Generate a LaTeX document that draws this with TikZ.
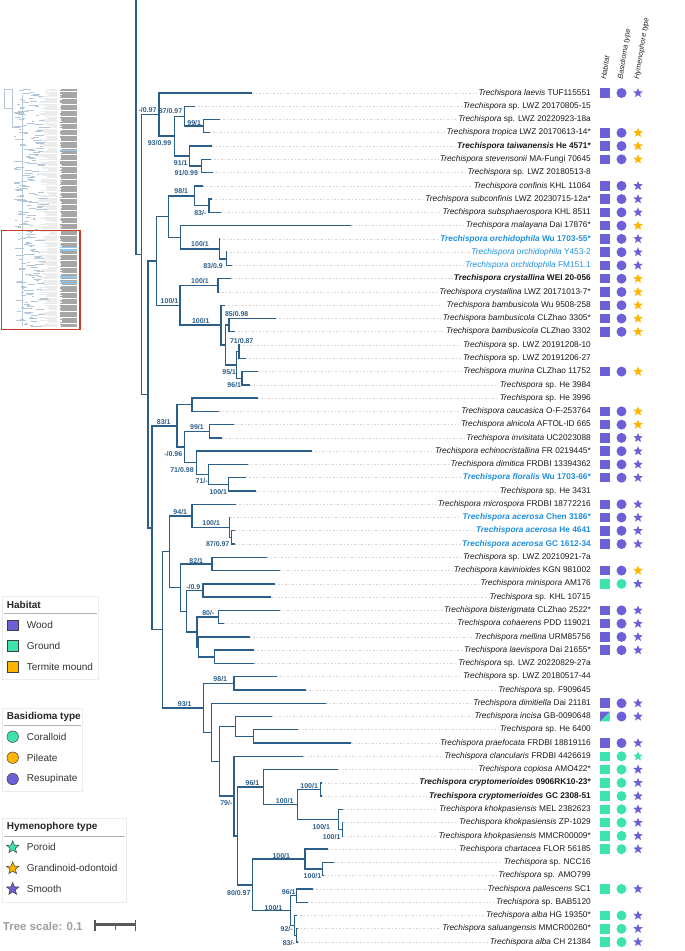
\documentclass[tikz,border=0pt]{standalone}
\usepackage{fontspec}
\setmainfont{Liberation Sans}
\usetikzlibrary{shapes.geometric}

\definecolor{rama}{RGB}{44,94,138}
\definecolor{madera}{RGB}{108,96,214}
\definecolor{suelo}{RGB}{62,226,174}
\definecolor{termita}{RGB}{255,180,0}
\definecolor{azul}{RGB}{30,142,222}
\definecolor{rojo}{RGB}{196,62,40}

\tikzset{
  branch/.style={rama, line width=1.4pt},
  minirama/.style={rama!35, line width=.4pt},
  leader/.style={gray!35, line width=.6pt, dash pattern=on 1.5pt off 2pt},
  taxon/.style={anchor=east, inner xsep=1.5pt, inner ysep=0pt, text=black!90,
    font=\fontsize{8.3}{10}\selectfont},
  tx/.is choice,
  tx/n/.style={},
  tx/b/.style={font=\fontsize{8.3}{10}\selectfont\bfseries},
  tx/c/.style={text=azul},
  tx/cb/.style={text=azul, font=\fontsize{8.3}{10}\selectfont\bfseries},
  support/.style={rama, inner sep=0pt, font=\fontsize{7}{8}\selectfont\bfseries},
  header/.style={inner sep=0pt, text=black!85, font=\fontsize{7.4}{9}\selectfont\itshape},
  sqicon/.style={rectangle, minimum size=9.5pt, inner sep=0pt},
  ciricon/.style={circle, minimum size=10pt, inner sep=0pt},
  staricon/.style={star, star points=5, star point ratio=2.3, minimum size=10pt, inner sep=0pt},
  legbox/.style={draw=gray!15, fill=white, line width=.6pt},
  legtitle/.style={anchor=west, inner sep=0pt, text=black!85, font=\fontsize{10}{12}\selectfont\bfseries},
  legtext/.style={anchor=west, inner sep=0pt, text=black!80, font=\fontsize{10}{12}\selectfont},
  legicon/.style={draw=black!75, line width=.5pt},
}

\begin{document}
\begin{tikzpicture}[x=1pt, y=-1pt]
\useasboundingbox (0,0) rectangle (685,951);

% Miniatura del arbol completo
\pgfmathsetseed{11}
\foreach \k in {0,...,199}{
  \pgfmathsetmacro{\yy}{89.5+1.19*\k}
  \pgfmathsetmacro{\xa}{59.5+2.5*rnd}
  \pgfmathsetmacro{\xb}{38+12*rnd}
  \pgfmathsetmacro{\xc}{14+26*rnd}
  \pgfmathsetmacro{\xd}{\xc+2+9*rnd}
  \draw[gray!70, line width=.7pt] (\xa,\yy) -- (76.5,\yy);
  \draw[gray!15, line width=.5pt] (\xb,\yy) -- (57,\yy);
  \draw[minirama] (\xc,\yy) -- (\xd,\yy);
}
\draw[minirama, line width=.6pt] (12,89) -- (4,89) -- (4,108) -- (12,108);
\draw[minirama, line width=.6pt] (12,89) -- (12,127) -- (20,127);
\draw[minirama, line width=.6pt] (22,95) -- (22,326);
\draw[azul!50, line width=.8pt] (60,150.5) -- (76.5,150.5);
\foreach \yy in {247.5,249,250.5,276,277.5,281.5,283}
  \draw[azul!50, line width=.8pt] (60,\yy) -- (76.5,\yy);
\draw[rojo, line width=1.3pt] (1.7,230.5) rectangle (80,329.5);

% Encabezados de las columnas
\node[header, anchor=base west, rotate=81] (hdh) at (606,80) {Habitat};
\node[header, anchor=base west, rotate=81] (hdb) at (622.5,80) {Basidioma type};
\node[header, anchor=base west, rotate=81] (hdm) at (639,80) {Hymenophore type};

% Arbol (una fila = un taxon)
\begin{scope}[yshift=-79.73pt, y=-13.266pt]
  \coordinate (root) at (136,-6.01);
  \foreach \n/\x/\r in {N1/141.6/13.171, A/158.8/2.625, B/174.4/4.25, C/184.7/2.75,
      D/203.4/3.5, E/189.7/5.75, F/201.3/6.5, N2/147.9/23.717, H/156.3/13.656,
      I/168.2/10.3125, K/194.5/8.75, M/208.9/9.5, L/180.3/11.875, N/219.2/12.75,
      O/226.2/13.5, J/180/17, P/217.9/15.5, Q/221/18.5, R/225.2/20, S/229/18.5,
      T/236.6/21.5, U/239/20.5, V/242/22.5, G/152/33.777, W/177/26.094,
      Y/192.1/24.5, Z/184.2/27.6875, Z1/209.5/26.5, AA/196.6/28.875,
      AB/208.3/29.75, AC/228.7/30.5, X/162.2/41.461, AD/169.2/35.578,
      AE/191.8/32.875, AF/229.4/33.75, AG/231.6/34.5, AH/180.4/38.281,
      AI/211.8/36.5, AJ/186.2/40.0625, AK/202.8/38.5, AL/197/41.625,
      AM/218.4/40.5, AN/198.6/42.75, AO/214.4/43.5, AP/203.4/47.344,
      AQ/234/45.5, AR/211.5/49.1875, AS/219.2/51.375, AT/235.6/48.75,
      AU/253.7/49.5, AV/234/54, AW/237.5/57, AX/263.5/53.3125, AY/297.5/54.625,
      AZ/320.7/53.5, BA/338.3/55.75, BB/342.3/56.5, BC/252.7/60.6875,
      BD/305/58.75, BE/322.7/59.5, BF/290.7/62.625, BG/296.7/61.5,
      BH/294.3/63.75, BI/296.7/64.5}
    \coordinate (\n) at (\x,\r);

  % Hojas, etiquetas y lineas guia
  \foreach \i/\x/\txt/\st in {
      1/252.3/{\textit{laevis} TUF115551}/n,
      2/194.5/{sp. LWZ 20170805-15}/n,
      3/219.5/{sp. LWZ 20220923-18a}/n,
      4/209.8/{\textit{tropica} LWZ 20170613-14*}/n,
      5/212.3/{\textit{taiwanensis} He 4571*}/b,
      6/210.5/{\textit{stevensonii} MA-Fungi 70645}/n,
      7/212.5/{sp. LWZ 20180513-8}/n,
      8/203/{\textit{confinis} KHL 11064}/n,
      9/211.8/{\textit{subconfinis} LWZ 20230715-12a*}/n,
      10/221.2/{\textit{subsphaerospora} KHL 8511}/n,
      11/351/{\textit{malayana} Dai 17876*}/n,
      12/219.7/{\textit{orchidophila} Wu 1703-55*}/cb,
      13/226.8/{\textit{orchidophila} Y453-2}/c,
      14/232.3/{\textit{orchidophila} FM151.1}/c,
      15/231.3/{\textit{crystallina} WEI 20-056}/b,
      16/218.6/{\textit{crystallina} LWZ 20171013-7*}/n,
      17/224.5/{\textit{bambusicola} Wu 9508-258}/n,
      18/275.5/{\textit{bambusicola} CLZhao 3305*}/n,
      19/234.8/{\textit{bambusicola} CLZhao 3302}/n,
      20/239.6/{sp. LWZ 20191208-10}/n,
      21/245.6/{sp. LWZ 20191206-27}/n,
      22/258.2/{\textit{murina} CLZhao 11752}/n,
      23/249.8/{sp. He 3984}/n,
      24/257.6/{sp. He 3996}/n,
      25/219/{\textit{caucasica} O-F-253764}/n,
      26/234/{\textit{alnicola} AFTOL-ID 665}/n,
      27/222.3/{\textit{invisitata} UC2023088}/n,
      28/311.8/{\textit{echinocristallina} FR 0219445*}/n,
      29/248.2/{\textit{dimitica} FRDBI 13394362}/n,
      30/245.6/{\textit{floralis} Wu 1703-66*}/cb,
      31/256/{sp. He 3431}/n,
      32/235.7/{\textit{microspora} FRDBI 18772216}/n,
      33/230/{\textit{acerosa} Chen 3186*}/cb,
      34/235.2/{\textit{acerosa} He 4641}/cb,
      35/235.2/{\textit{acerosa} GC 1612-34}/cb,
      36/267/{sp. LWZ 20210921-7a}/n,
      37/280.3/{\textit{kavinioides} KGN 981002}/n,
      38/274.5/{\textit{minispora} AM176}/n,
      39/271/{sp. KHL 10715}/n,
      40/280.3/{\textit{bisterigmata} CLZhao 2522*}/n,
      41/224/{\textit{cohaerens} PDD 119021}/n,
      42/249.8/{\textit{mellina} URM85756}/n,
      43/254.2/{\textit{laevispora} Dai 21655*}/n,
      44/254.2/{sp. LWZ 20220829-27a}/n,
      45/276.7/{sp. LWZ 20180517-44}/n,
      46/305.7/{sp. F909645}/n,
      47/326/{\textit{dimitiella} Dai 21181}/n,
      48/272/{\textit{incisa} GB-0090648}/n,
      49/298.3/{sp. He 6400}/n,
      50/351/{\textit{praefocata} FRDBI 18819116}/n,
      51/303.3/{\textit{clancularis} FRDBI 4426619}/n,
      52/338.3/{\textit{copiosa} AMO422*}/n,
      53/321.3/{\textit{cryptomerioides} 0906RK10-23*}/b,
      54/321.3/{\textit{cryptomerioides} GC 2308-51}/b,
      55/343.3/{\textit{khokpasiensis} MEL 2382623}/n,
      56/343/{\textit{khokpasiensis} ZP-1029}/n,
      57/343.3/{\textit{khokpasiensis} MMCR00009*}/n,
      58/328.3/{\textit{chartacea} FLOR 56185}/n,
      59/334.3/{sp. NCC16}/n,
      60/324.3/{sp. AMO799}/n,
      61/312.7/{\textit{pallescens} SC1}/n,
      62/307.7/{sp. BAB5120}/n,
      63/296.7/{\textit{alba} HG 19350*}/n,
      64/297.3/{\textit{saluangensis} MMCR00260*}/n,
      65/297.3/{\textit{alba} CH 21384}/n}{
    \coordinate (l\i) at (\x,\i);
    \node[taxon, tx=\st] (t\i) at (592.5,\i) {\textit{Trechispora} \txt};
    \draw[leader] (l\i) -- (t\i.west);
  }

  % Ramas
  \draw[branch] (root) |- (N1);
  \foreach \p/\a/\b in {N1/A/N2, A/l1/B, B/C/E, C/l2/D, D/l3/l4, E/l5/F, F/l6/l7,
      N2/H/G, H/I/J, I/K/L, K/l8/M, M/l9/l10, L/l11/N, N/l12/O, O/l13/l14,
      J/P/Q, P/l15/l16, Q/l17/R, R/S/T, S/l18/l19, T/U/V, U/l20/l21, V/l22/l23,
      G/W/X, W/Y/Z, Y/l24/l25, Z/Z1/AA, Z1/l26/l27, AA/l28/AB, AB/l29/AC,
      AC/l30/l31, X/AD/AP, AD/AE/AH, AE/l32/AF, AF/l33/AG, AG/l34/l35,
      AH/AI/AJ, AI/l36/l37, AJ/AK/AL, AK/l38/l39, AL/AM/AN, AM/l40/l41,
      AN/l42/AO, AO/l43/l44, AP/AQ/AR, AQ/l45/l46, AR/l47/AS, AS/AT/AV,
      AT/l48/AU, AU/l49/l50, AV/l51/AW, AW/AX/BC, AX/l52/AY, AY/AZ/BA,
      AZ/l53/l54, BA/l55/BB, BB/l56/l57, BC/BD/BF, BD/l58/BE, BE/l59/l60,
      BF/BG/BH, BG/l61/l62, BH/l63/BI, BI/l64/l65}
    \draw[branch] (\p) |- (\a) (\p) |- (\b);

  % Caracteres: habitat
  \foreach \i in {1,4,5,6,8,9,10,11,12,13,14,15,16,17,18,19,22,25,26,27,28,29,30,
      32,33,34,35,37,40,41,42,43,47,50}
    \node[sqicon, fill=madera] (h\i) at (605,\i) {};
  \foreach \i in {38,51,52,53,54,55,56,57,58,61,63,64,65}
    \node[sqicon, fill=suelo] (h\i) at (605,\i) {};
  \node[sqicon] (h48) at (605,48) {};
  \fill[madera] (h48.north west) -- (h48.north east) -- (h48.south west) -- cycle;
  \fill[suelo] (h48.north east) -- (h48.south east) -- (h48.south west) -- cycle;

  % Caracteres: basidioma
  \foreach \i in {1,4,5,6,8,9,10,11,12,13,14,15,16,17,18,19,22,25,26,27,28,29,30,
      32,33,34,35,37,40,41,42,43,47,48,50}
    \node[ciricon, fill=madera] (b\i) at (621.5,\i) {};
  \foreach \i in {38,51,52,53,54,55,56,57,58,61,63,64,65}
    \node[ciricon, fill=suelo] (b\i) at (621.5,\i) {};

  % Caracteres: himenoforo
  \foreach \i in {1,8,9,10,12,13,14,27,28,29,30,32,33,34,35,38,40,41,42,43,47,48,
      50,52,53,54,55,56,57,58,61,63,64,65}
    \node[staricon, fill=madera] (m\i) at (638,\i) {};
  \foreach \i in {4,5,6,11,15,16,17,18,19,22,25,26,37}
    \node[staricon, fill=termita] (m\i) at (638,\i) {};
  \node[staricon, fill=suelo] (m51) at (638,51) {};
\end{scope}

% Valores de soporte
\foreach \t/\x/\y [count=\n] in {{-/0.97}/147.5/110, {87/0.97}/170.5/111,
    {99/1}/194.2/122.7, {93/0.99}/159.5/143.3, {91/1}/180.8/162.7,
    {91/0.99}/186.3/172.7, {98/1}/181.3/191, {83/-}/200.3/212.7,
    {100/1}/200/244.3, {83/0.9}/213/266, {100/1}/200/281, {100/1}/169.5/301,
    {100/1}/200.8/321, {85/0.98}/236.7/314, {71/0.87}/241.7/340.7,
    {95/1}/229.2/372.3, {96/1}/234.3/385, {83/1}/163.7/421.7, {99/1}/197/427.3,
    {-/0.96}/173.3/454.3, {71/0.98}/182/470, {71/-}/201.7/480.7,
    {100/1}/218.3/491.7, {94/1}/180.3/512.3, {100/1}/211.2/523.3,
    {87/0.97}/217.7/544, {82/1}/196.3/560.7, {-/0.9}/193.3/587.3,
    {80/-}/208.3/613.3, {98/1}/220.3/679, {93/1}/184.7/704.3,
    {96/1}/252.5/782.7, {100/1}/309.2/786, {100/1}/284.7/801, {79/-}/226.3/802.7,
    {100/1}/321.3/826.7, {100/1}/331.7/836.7, {100/1}/281.3/856,
    {100/1}/312.5/876, {96/1}/288.8/891.7, {80/0.97}/238.8/892.7,
    {100/1}/273.5/907.7, {92/-}/286.7/929.3, {83/-}/288.8/942.7}
  \node[support] (s\n) at (\x,\y) {\t};

% Leyenda: habitat
\draw[legbox] (2.7,596) rectangle (98.3,679.3);
\node[legtitle] (habtit) at (6.7,605) {Habitat};
\draw[gray!60, line width=.8pt] (4,613.3) -- (96.7,613.3);
\foreach \y/\c/\t [count=\n] in {625/madera/Wood, 645.7/suelo/Ground, 666.7/termita/Termite mound}{
  \node[sqicon, legicon, fill=\c, minimum size=10.5pt] (hab\n) at (12.8,\y) {};
  \node[legtext] (habt\n) at (26.7,\y) {\t};
}

% Leyenda: basidioma
\draw[legbox] (2.7,708.3) rectangle (82.3,791.7);
\node[legtitle] (bastit) at (6.7,716.7) {Basidioma type};
\draw[gray!60, line width=.8pt] (4,725.7) -- (80.7,725.7);
\foreach \y/\c/\t [count=\n] in {736.7/suelo/Coralloid, 757.7/termita/Pileate, 779/madera/Resupinate}{
  \node[ciricon, legicon, fill=\c, minimum size=11.5pt] (bas\n) at (12.7,\y) {};
  \node[legtext] (bast\n) at (26.7,\y) {\t};
}

% Leyenda: himenoforo
\draw[legbox] (2.7,818.3) rectangle (126.7,902.3);
\node[legtitle] (himtit) at (6.7,827.3) {Hymenophore type};
\draw[gray!60, line width=.8pt] (4,836.7) -- (125,836.7);
\foreach \y/\c/\t [count=\n] in {847.3/suelo/Poroid, 868.3/termita/Grandinoid-odontoid, 889/madera/Smooth}{
  \node[staricon, legicon, fill=\c, minimum size=13pt] (him\n) at (12.7,\y) {};
  \node[legtext] (himt\n) at (26.7,\y) {\t};
}

% Escala del arbol
\node[anchor=west, inner sep=0pt, text=gray!75, font=\fontsize{11.5}{13}\selectfont\bfseries] (escala) at (2.7,926.7) {Tree scale: 0.1};
\draw[black!65, line width=3pt] (95,924.5) -- (135.5,924.5);
\draw[black!65, line width=1.3pt] (95,920) -- (95,931) (135.5,920) -- (135.5,931) (115.3,924.5) -- (115.3,929.5);
\end{tikzpicture}
\end{document}
